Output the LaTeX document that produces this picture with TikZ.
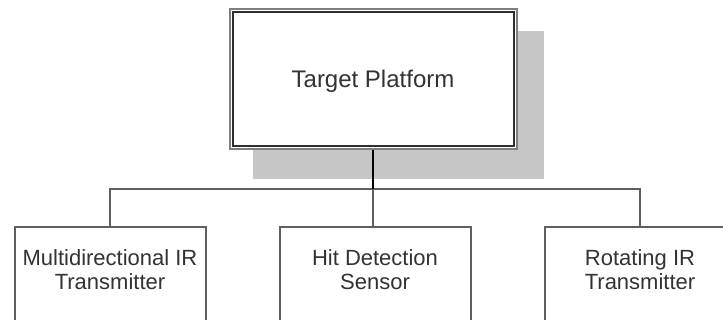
\documentclass[tikz,border=0pt]{standalone}
\usepackage{fontspec}
\setmainfont{Liberation Sans}
\usepackage{tikz}
\usetikzlibrary{positioning,calc,backgrounds}
\definecolor{framegray}{HTML}{7F7F7F}
\definecolor{framedark}{HTML}{303030}
\definecolor{linegray}{HTML}{5F5F5F}
\definecolor{shadowgray}{HTML}{C6C6C6}
\definecolor{txtgray}{HTML}{333333}
\tikzset{
  platbox/.style   = {draw=framegray,line width=1pt,fill=white,
                      minimum width=143.5pt,minimum height=70pt,inner sep=0pt,
                      font=\fontsize{12}{14}\selectfont,text=txtgray,
                      text depth=0pt},
  platframe/.style = {draw=framedark,line width=1pt},
  platshadow/.style= {fill=shadowgray},
  unitbox/.style   = {draw=linegray,line width=1pt,fill=white,
                      minimum width=95.5pt,minimum height=60pt,inner sep=0pt},
  unittxt/.style   = {align=center,inner sep=0pt,
                      font=\fontsize{11}{12}\selectfont,text=txtgray},
  link/.style      = {draw=linegray,line width=1pt},
  stem/.style      = {draw=black,line width=1.2pt},
}

\begin{document}
\begin{tikzpicture}[x=0.5pt,y=-0.5pt]
  \useasboundingbox (0,0) rectangle (723,320);
  % top box
  \node[platbox] (platform) at (373,79) {Target Platform};
  \draw[platframe] ([shift={(4,4)}]platform.north west)
       rectangle ([shift={(-4,-4)}]platform.south east);
  \begin{scope}[on background layer]
    \fill[platshadow] ([shift={(24,23)}]platform.north west)
         rectangle ([shift={(26,29)}]platform.south east);
  \end{scope}
  % units
  \node[unitbox,anchor=north] (multi) at (110,226) {};
  \node[unitbox,anchor=north] (hit) at (375,226) {};
  \node[unitbox,anchor=north] (rotor) at (640,226) {};
  \node[unittxt] (multitxt) at (110,270) {Multidirectional IR\\Transmitter};
  \node[unittxt] (hittxt) at (375,270) {Hit Detection\\Sensor};
  \node[unittxt] (rotortxt) at (640,270) {Rotating IR\\Transmitter};
  % links
  \coordinate (bus) at (373,189);
  \draw[link] (multi.north) |- (bus) -| (rotor.north);
  \draw[link] (bus) -- (bus |- hit.north);
  \draw[stem] (platform.south) -- (bus);
\end{tikzpicture}
\end{document}
